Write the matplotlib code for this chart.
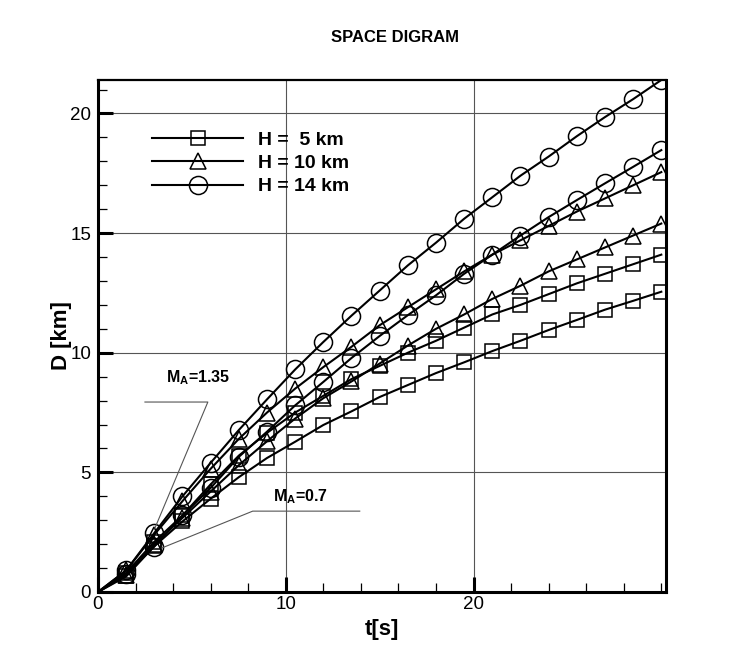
import matplotlib
matplotlib.use("Agg")
import matplotlib.pyplot as plt
from matplotlib.ticker import MultipleLocator
from matplotlib.lines import Line2D

plt.rcParams['font.family'] = ['Liberation Sans', 'DejaVu Sans']
plt.rcParams['mathtext.fontset'] = 'custom'
plt.rcParams['mathtext.rm'] = 'Liberation Sans:bold'
plt.rcParams['mathtext.it'] = 'Liberation Sans:bold'
plt.rcParams['mathtext.bf'] = 'Liberation Sans:bold'

# ---- data ----
t = [0, 1.5, 3, 4.5, 6, 7.5, 9, 10.5, 12, 13.5, 15, 16.5, 18, 19.5, 21,
     22.5, 24, 25.5, 27, 28.5, 30]

h5_m07 = [0, 0.65, 1.92, 2.95, 3.9, 4.8, 5.6, 6.28, 6.98, 7.55, 8.15, 8.65,
          9.15, 9.6, 10.07, 10.5, 10.95, 11.37, 11.8, 12.17, 12.55]
h5_m135 = [0, 0.8, 2.1, 3.2, 4.5, 5.7, 6.65, 7.5, 8.2, 8.9, 9.45, 10.0,
           10.5, 11.05, 11.6, 12.0, 12.45, 12.9, 13.3, 13.7, 14.1]
h10_m07 = [0, 0.7, 2.0, 3.1, 4.2, 5.3, 6.3, 7.25, 8.1, 8.8, 9.55, 10.3,
           11.0, 11.6, 12.25, 12.8, 13.4, 13.9, 14.4, 14.9, 15.4]
h10_m135 = [0, 0.9, 2.4, 3.8, 5.15, 6.4, 7.5, 8.5, 9.4, 10.25, 11.15, 11.9,
            12.65, 13.4, 14.1, 14.7, 15.3, 15.9, 16.45, 17.0, 17.55]
h14_m07 = [0, 0.75, 1.9, 3.2, 4.35, 5.65, 6.7, 7.8, 8.78, 9.78, 10.7, 11.57,
           12.4, 13.3, 14.1, 14.9, 15.67, 16.38, 17.08, 17.77, 18.47]
h14_m135 = [0, 0.9, 2.47, 4.0, 5.4, 6.77, 8.05, 9.3, 10.45, 11.55, 12.6, 13.65,
            14.6, 15.6, 16.5, 17.4, 18.2, 19.05, 19.85, 20.6, 21.4]

legend_labels = ["H =  5 km", "H = 10 km", "H = 14 km"]
xticks = [0, 10, 20]
yticks = [0, 5, 10, 15, 20]

# ---- figure ----
fig = plt.figure(figsize=(7.5, 6.67), dpi=100)
ax = fig.add_axes([98/750, 1-592/667, (666-98)/750, (592-80)/667])

series = [
    (h5_m07, 's', 9.4), (h5_m135, 's', 9.4),
    (h10_m07, '^', 11), (h10_m135, '^', 11),
    (h14_m07, 'o', 13), (h14_m135, 'o', 13),
]
for y, m, ms in series:
    ax.plot(t, y, color='black', lw=1.5, marker=m, ms=ms, mfc='none',
            mec='black', mew=1.1, markevery=slice(1, None))

ax.set_xlim(0, 30.25)
ax.set_ylim(0, 21.4)
ax.set_xticks(xticks)
ax.set_yticks(yticks)
ax.xaxis.set_minor_locator(MultipleLocator(2))
ax.yaxis.set_minor_locator(MultipleLocator(1))
ax.tick_params(which='major', direction='in', length=11, width=2.2,
               labelsize=13.5, pad=5)
ax.tick_params(axis='x', which='major', pad=3)
ax.tick_params(which='minor', direction='in', length=6.5, width=0.9)
ax.grid(True, which='major', color='#555555', lw=0.8)
ax.set_axisbelow(True)
for side in ['left', 'bottom', 'right']:
    ax.spines[side].set_linewidth(2.2)
ax.spines['top'].set_linewidth(1.6)

ax.set_xlabel("t[s]", fontsize=16, fontweight='bold', labelpad=4)
ax.set_ylabel("D [km]", fontsize=16, fontweight='bold')
ax.yaxis.set_label_coords(-0.046, 0.5)

fig.text(395/750, 1-37/667, "SPACE DIGRAM", ha='center', va='center',
         fontsize=12, fontweight='bold')

# legend
handles = [Line2D([], [], color='black', lw=1.5, marker=m, ms=ms, mfc='none',
                  mec='black', mew=1.1)
           for m, ms in [('s', 9.4), ('^', 11), ('o', 13)]]
leg = ax.legend(handles, legend_labels, loc='upper left',
                bbox_to_anchor=(152/750, 1-131/667), bbox_transform=fig.transFigure,
                frameon=False, borderpad=0, borderaxespad=0, handlelength=4.7,
                handletextpad=0.75, labelspacing=0.3,
                prop={'size': 14, 'weight': 'bold'})

# Mach annotations with leader lines
ax.text(3.6, 8.94, r"M$_{\mathregular{A}}$=1.35", fontsize=11.5, fontweight='bold',
        ha='left', va='center')
ax.plot([2.5, 5.85, 3.03], [7.94, 7.94, 2.67], color='#555555', lw=0.8)
ax.text(9.3, 3.97, r"M$_{\mathregular{A}}$=0.7", fontsize=11.5, fontweight='bold',
        ha='left', va='center')
ax.plot([13.94, 8.24, 3.4], [3.38, 3.38, 1.84], color='#555555', lw=0.8)

fig.savefig("out.png", dpi=100)
